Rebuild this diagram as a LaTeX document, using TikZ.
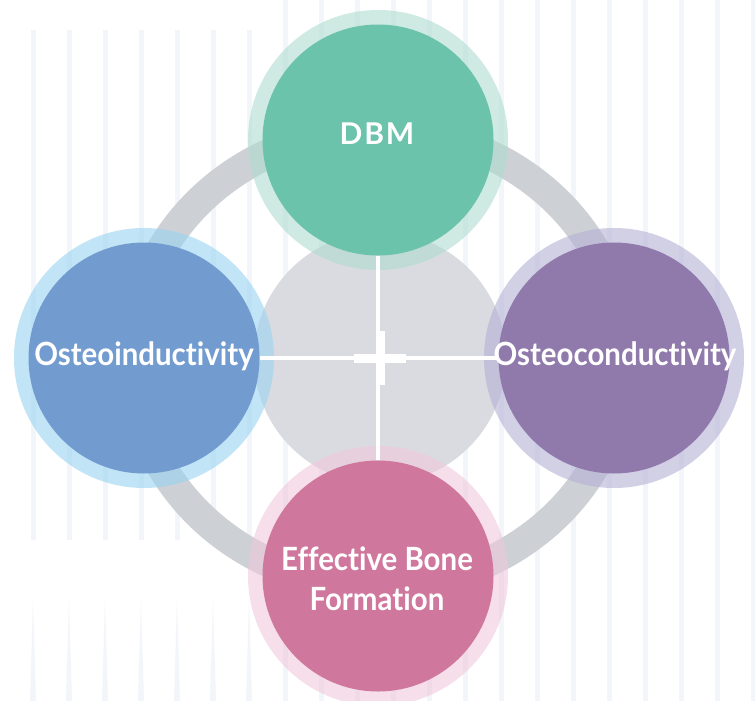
\documentclass[tikz,border=0pt]{standalone}
\usepackage{fontspec}
\setmainfont{Lato}[Ligatures=NoCommon]
\definecolor{dbmcol}{HTML}{6BC3AB}
\definecolor{dbmhalo}{RGB}{175,220,207}
\definecolor{indcol}{HTML}{729BCF}
\definecolor{indhalo}{RGB}{153,212,242}
\definecolor{concol}{HTML}{9079AB}
\definecolor{conhalo}{RGB}{180,177,213}
\definecolor{bonecol}{HTML}{D0779D}
\definecolor{bonehalo}{RGB}{240,200,220}
\definecolor{ringcol}{HTML}{CDD1D5}
\definecolor{disccol}{HTML}{DADBE0}
\definecolor{stripecol}{HTML}{F2F6FB}
\begin{document}
\begin{tikzpicture}[x=1pt, y=-1pt,
  halo/.style={circle, minimum size=260pt, inner sep=0pt, fill opacity=0.6},
  core/.style={circle, minimum size=231pt, inner sep=0pt},
  lbl/.style={text=white, align=center,
    font=\bfseries\fontsize{32}{37}\selectfont\addfontfeatures{FakeStretch=0.92}},
  crossline/.style={draw=white, line width=4pt}]
\clip (0,0) rectangle (755,701);
\fill[white] (0,0) rectangle (755,701);
\foreach \k in {0,...,20} {
  \pgfmathsetmacro{\sx}{33+36*\k}
  \ifdim\sx pt<250pt
    \fill[stripecol] (\sx-2.5,30) rectangle (\sx+2.5,540);
    \fill[stripecol] (\sx,600) -- (\sx+3,701) -- (\sx-3,701) -- cycle;
  \else
    \fill[stripecol] (\sx-2.5,0) rectangle (\sx+2.5,701);
  \fi
}
\draw[ringcol, line width=30pt] (378,358) ellipse [x radius=246, y radius=228];
\fill[disccol] (380,358) circle [radius=126];
\node[halo, fill=dbmhalo]  at (378,140) {};
\node[halo, fill=indhalo]  at (144,358) {};
\node[halo, fill=conhalo]  at (614,358) {};
\node[halo, fill=bonehalo] at (378,576) {};
\node[core] (dbm)  at (378,140) {};
\node[core] (ind)  at (144,358) {};
\node[core] (con)  at (614,358) {};
\node[core] (bone) at (378,576) {};
\draw[crossline] (dbm) -- (bone);
\draw[crossline] (ind) -- (con);
\fill[white] (354,353.5) rectangle (406,362.5);
\fill[white] (375.5,331) rectangle (384.5,385);
\fill[dbmcol]  (dbm)  circle [radius=115.5];
\fill[indcol]  (ind)  circle [radius=115.5];
\fill[concol]  (con)  circle [radius=115.5];
\fill[bonecol] (bone) circle [radius=115.5];
\node[lbl, font=\bfseries\fontsize{30}{34}\selectfont\addfontfeatures{LetterSpace=6}] at (377,134) {DBM};
\node[lbl] at (144,356) {Osteoinductivity};
\node[lbl] at (615,356) {Osteoconductivity};
\node[lbl] at (377,579) {Effective Bone\\[3pt]Formation};
\end{tikzpicture}
\end{document}
